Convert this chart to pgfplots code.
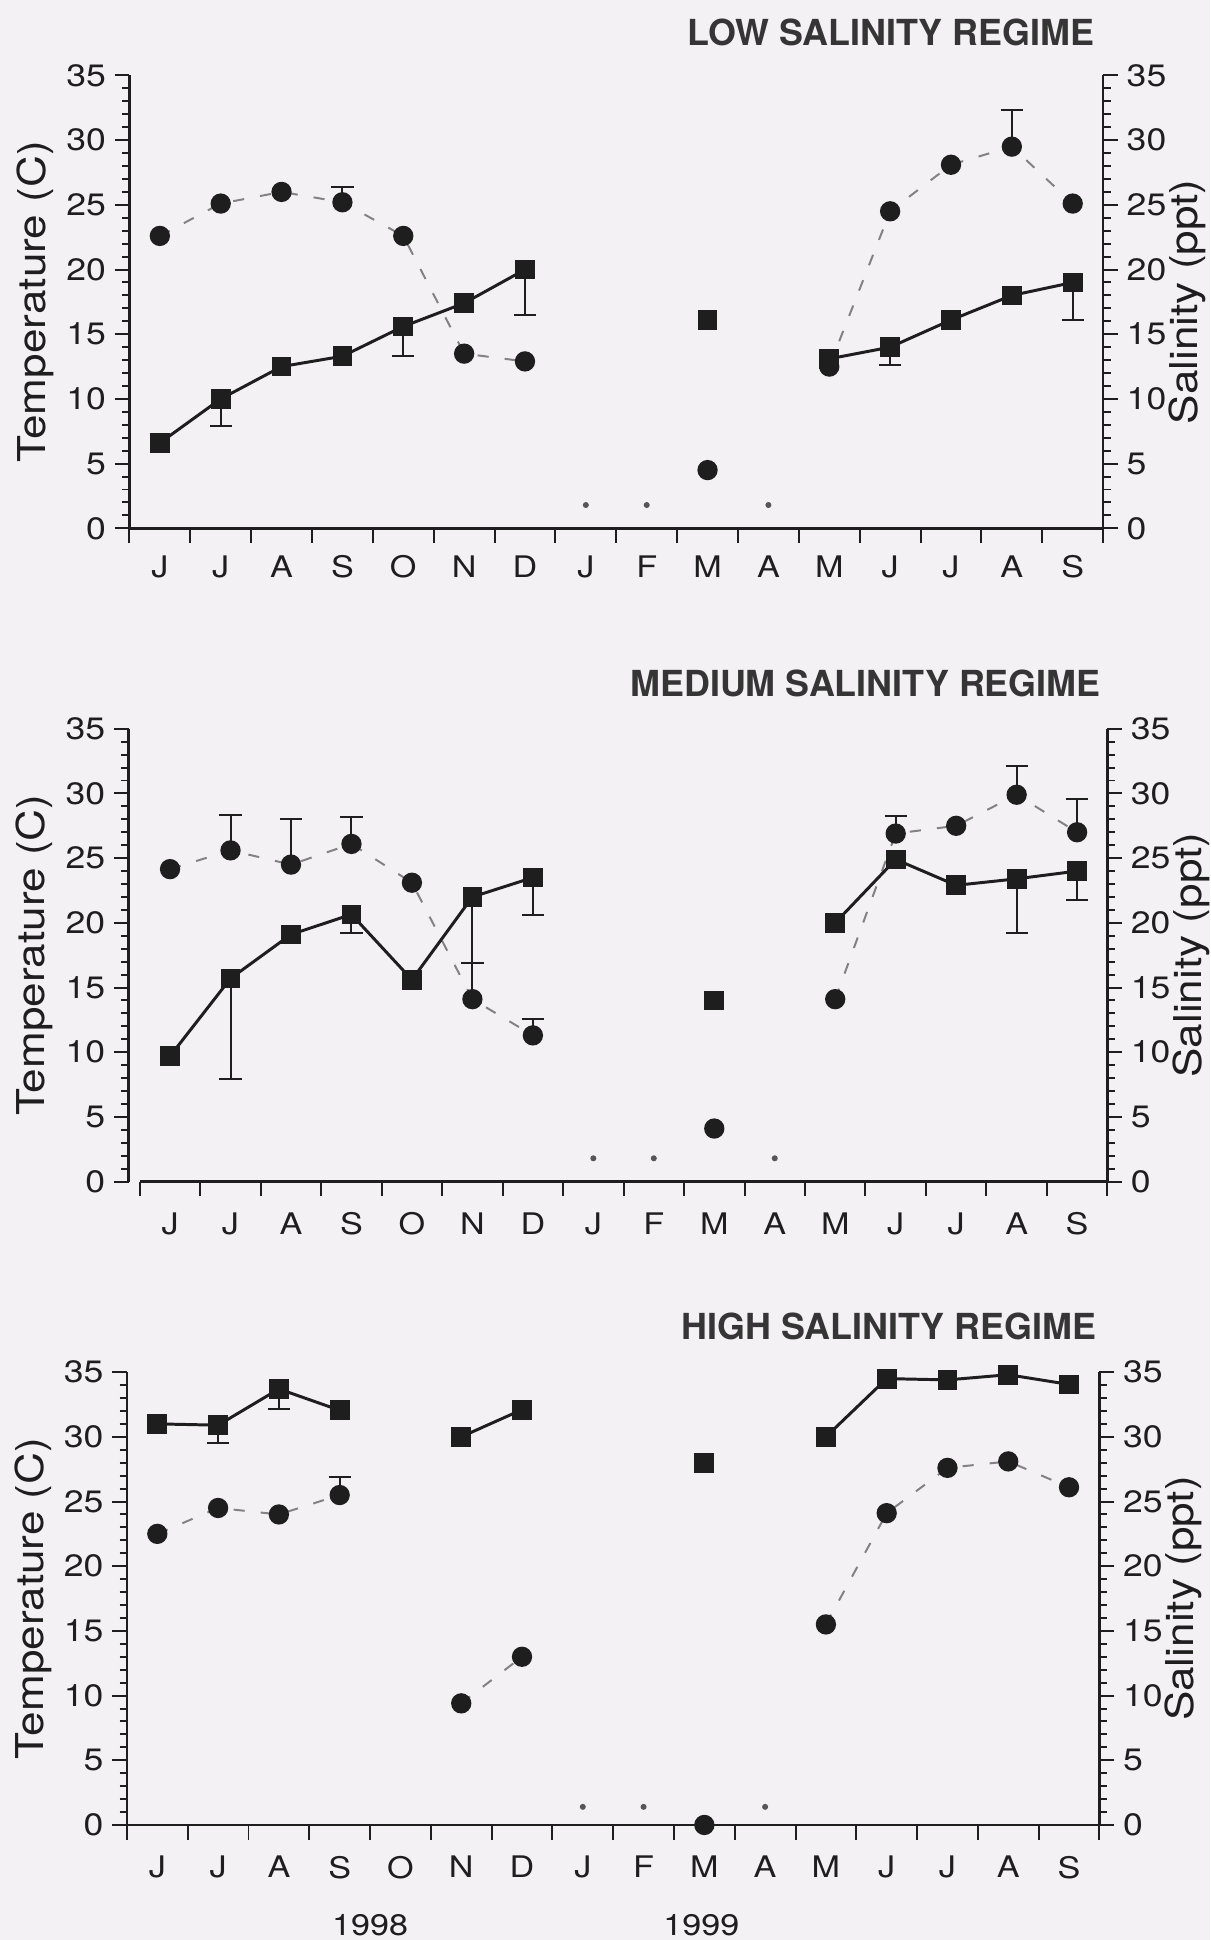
\documentclass[border=0pt]{standalone}
\usepackage{fontspec}
\setmainfont{TeX Gyre Heros}[FakeStretch=1.15]
\newfontfamily\ttlfont{TeX Gyre Heros}
\usepackage{pgfplots}
\pgfplotsset{compat=1.18}
\definecolor{bg}{RGB}{244,241,244}
\definecolor{ink}{RGB}{30,30,30}
\definecolor{dashc}{RGB}{130,130,130}

\tikzset{ttl/.style={anchor=base east, inner sep=0pt, font=\ttlfont\bfseries\fontsize{14.5}{14.5}\selectfont, text=ink!90},
  yr/.style={anchor=center, font=\fontsize{12}{12}\selectfont, text=ink}}

\pgfplotsset{
  base/.style={
    scale only axis, height=183pt,
    xmin=0, xmax=16, ymin=0, ymax=35,
    clip=false,
    axis line style={ink, line width=1pt, -},
    tick align=outside,
    major tick length=6pt, minor tick length=3pt,
    tick style={ink, line width=0.8pt},
    ytick={0,5,...,35}, minor y tick num=4,
    /pgf/number format/assume math mode=true,
    yticklabel style={font=\fontsize{12.5}{12.5}\selectfont, text=ink},
    unbounded coords=jump,
  },
  xpart/.style={
    xtick={0,...,16}, xticklabels={},
    extra x ticks={0.5,1.5,...,15.5},
    extra x tick labels={J,J,A,S,O,N,D,J,F,M,A,M,J,J,A,S},
    extra x tick style={major tick length=0pt, tick style={draw=none},
      tick label style={font=\fontsize{12}{12}\selectfont, text=ink, yshift=#1}},
  },
  templabel/.style={
    ylabel={Temperature (C)},
    ylabel style={at={(axis description cs:-0.0965,0.5)}, anchor=center,
      font=\fontsize{15.5}{15.5}\selectfont, text=ink},
  },
  panelL/.style={base, axis y line*=left, axis x line*=bottom, xpart=#1, templabel},
  panelR/.style={
    base,
    axis y line*=right, axis x line=none,
    ylabel={Salinity (ppt)},
    ylabel style={at={(axis description cs:1.0863,0.5)}, anchor=center,
      font=\fontsize{15.5}{15.5}\selectfont, text=ink},
  },
  circ/.style={dashc, line width=0.8pt, dash pattern=on 4.5pt off 6.5pt,
    mark=*, mark size=3.7pt, mark options={solid, fill=ink, draw=ink}},
  sq/.style={ink, line width=1.2pt, solid,
    mark=square*, mark size=3.4pt, mark options={solid, fill=ink, draw=ink}},
  dots/.style={only marks, mark=*, mark size=1pt, mark options={fill=ink!75, draw=ink!75}},
  eplus/.style={only marks, mark=none, forget plot,
    error bars/.cd, y dir=plus, y explicit,
    error bar style={draw=ink, solid, line width=0.8pt},
    error mark options={draw=ink, solid, line width=0.8pt, mark size=4.5pt, rotate=90}},
  eminus/.style={only marks, mark=none, forget plot,
    error bars/.cd, y dir=minus, y explicit,
    error bar style={draw=ink, solid, line width=0.8pt},
    error mark options={draw=ink, solid, line width=0.8pt, mark size=4.5pt, rotate=90}},
}

\begin{document}
\begin{tikzpicture}
\fill[bg] (0,0) rectangle (489pt,-784pt);
\path[use as bounding box] (0,0) rectangle (489pt,-784pt);

% ---------------- LOW SALINITY ----------------
\begin{axis}[panelL=-7.5pt, width=393.5pt, at={(52.3pt,-213.5pt)}, anchor=south west]
\addplot[eminus] coordinates {(1.5,10.0) -= (0,2.1) (4.5,15.6) -= (0,2.3) (6.5,20.0) -= (0,3.55) (12.5,14.0) -= (0,1.4) (15.5,19.0) -= (0,2.9)};
\addplot[eplus] coordinates {(3.5,25.2) += (0,1.2) (14.5,29.5) += (0,2.8)};
\addplot[circ] coordinates {(0.5,22.6) (1.5,25.1) (2.5,26.0) (3.5,25.2) (4.5,22.6) (5.5,13.5) (6.5,12.9) (7.5,nan) (9.5,4.5) (10.5,nan) (11.5,12.5) (12.5,24.5) (13.5,28.1) (14.5,29.5) (15.5,25.1)};
\addplot[sq] coordinates {(0.5,6.6) (1.5,10.0) (2.5,12.5) (3.5,13.3) (4.5,15.6) (5.5,17.4) (6.5,20.0) (7.5,nan) (9.5,16.1) (10.5,nan) (11.5,13.1) (12.5,14.0) (13.5,16.1) (14.5,18.0) (15.5,19.0)};
\addplot[dots] coordinates {(7.5,1.8) (8.5,1.8) (10.5,1.8)};
\node[ttl] at (rel axis cs:1,1) [xshift=-3.5pt, yshift=12pt] {LOW SALINITY REGIME};
\end{axis}
\begin{axis}[panelR, width=393.5pt, at={(52.3pt,-213.5pt)}, anchor=south west]
\end{axis}

% ---------------- MEDIUM SALINITY ----------------
\begin{axis}[base, axis y line*=left, axis x line=none, templabel, width=394pt,
  xtick=\empty, at={(52pt,-477.5pt)}, anchor=south west]
\end{axis}
\begin{axis}[base, axis y line=none, axis x line*=bottom, xpart=-9pt, width=391pt,
  at={(56.5pt,-477.5pt)}, anchor=south west]
\addplot[eminus] coordinates {(1.5,15.7) -= (0,7.8) (3.5,20.65) -= (0,1.45) (5.5,22.0) -= (0,5.1) (6.5,23.5) -= (0,2.9) (14.5,23.4) -= (0,4.2) (15.5,24.0) -= (0,2.2)};
\addplot[eplus] coordinates {(1.5,25.6) += (0,2.7) (2.5,24.5) += (0,3.5) (3.5,26.1) += (0,2.05) (5.5,14.1) += (0,2.8) (6.5,11.3) += (0,1.3) (12.5,26.9) += (0,1.35) (14.5,29.9) += (0,2.2) (15.5,27.0) += (0,2.6)};
\addplot[circ] coordinates {(0.5,24.15) (1.5,25.6) (2.5,24.5) (3.5,26.1) (4.5,23.1) (5.5,14.1) (6.5,11.3) (7.5,nan) (9.5,4.1) (10.5,nan) (11.5,14.1) (12.5,26.9) (13.5,27.5) (14.5,29.9) (15.5,27.0)};
\addplot[sq] coordinates {(0.5,9.7) (1.5,15.7) (2.5,19.1) (3.5,20.65) (4.5,15.6) (5.5,22.0) (6.5,23.5) (7.5,nan) (9.5,14.0) (10.5,nan) (11.5,20.0) (12.5,24.9) (13.5,22.9) (14.5,23.4) (15.5,24.0)};
\addplot[dots] coordinates {(7.5,1.8) (8.5,1.8) (10.5,1.8)};
\node[ttl] at (rel axis cs:1,1) [xshift=-2.5pt, yshift=13pt] {MEDIUM SALINITY REGIME};
\end{axis}
\begin{axis}[panelR, width=391pt, at={(56.5pt,-477.5pt)}, anchor=south west]
\end{axis}

% ---------------- HIGH SALINITY ----------------
\begin{axis}[panelL=-9pt, width=393pt, at={(51.3pt,-737.5pt)}, anchor=south west]
\addplot[eminus] coordinates {(1.5,30.9) -= (0,1.35) (2.5,33.7) -= (0,1.55)};
\addplot[eplus] coordinates {(3.5,25.5) += (0,1.4)};
\addplot[circ] coordinates {(0.5,22.5) (1.5,24.5) (2.5,24.0) (3.5,25.5) (4.5,nan) (5.5,9.4) (6.5,13.0) (7.5,nan) (9.5,0) (10.5,nan) (11.5,15.5) (12.5,24.1) (13.5,27.6) (14.5,28.1) (15.5,26.1)};
\addplot[sq] coordinates {(0.5,31.0) (1.5,30.9) (2.5,33.7) (3.5,32.05) (4.5,nan) (5.5,30.0) (6.5,32.1) (7.5,nan) (9.5,28.0) (10.5,nan) (11.5,30.0) (12.5,34.5) (13.5,34.4) (14.5,34.8) (15.5,34.05)};
\addplot[dots] coordinates {(7.5,1.4) (8.5,1.4) (10.5,1.4)};
\node[ttl] at (rel axis cs:1,1) [xshift=-1pt, yshift=13pt] {HIGH SALINITY REGIME};
\node[yr] at (axis cs:4,0) [yshift=-40.5pt] {1998};
\node[yr] at (axis cs:9.45,0) [yshift=-40.5pt] {1999};
\end{axis}
\begin{axis}[panelR, width=393pt, at={(51.3pt,-737.5pt)}, anchor=south west]
\end{axis}
\end{tikzpicture}
\end{document}
